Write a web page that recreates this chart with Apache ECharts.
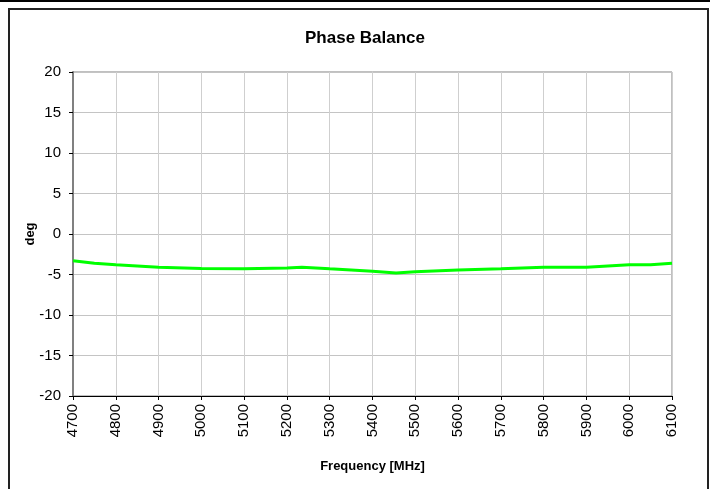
<!DOCTYPE html>
<html>
<head>
<meta charset="utf-8">
<title>Phase Balance</title>
<script src="https://cdn.jsdelivr.net/npm/echarts@6/dist/echarts.min.js"></script>
<style>
  * { margin: 0; padding: 0; }
  body { background: #fff; }
  #main { width: 715px; height: 489px; }
</style>
</head>
<body>
<div id="main"></div>
<script>
  // 频率点 (MHz) 和相位平衡值 (deg)
  let freqList = [4700, 4750, 4800, 4900, 5000, 5100, 5200, 5235, 5300, 5400, 5455, 5500, 5600, 5700, 5800, 5900, 6000, 6050, 6100];
  let phaseList = [-3.3, -3.6, -3.8, -4.1, -4.25, -4.3, -4.2, -4.1, -4.3, -4.6, -4.8, -4.65, -4.45, -4.3, -4.1, -4.1, -3.8, -3.8, -3.6];
  let xTicks = [4700, 6100, 100];   // min, max, interval
  let yTicks = [-20, 20, 5];

  let myChart = echarts.init(document.getElementById('main'));
  let lineData = [];
  freqList.forEach((f, i) => {
    lineData.push([f, phaseList[i]]);
  });

  let option = {
    backgroundColor: '#fff',
    animation: false,
    title: {
      text: 'Phase Balance',
      left: 360,
      top: 25,
      textAlign: 'center',
      textStyle: {
        fontFamily: 'Liberation Sans',
        fontSize: 17,
        fontWeight: 'bold',
        color: '#000'
      }
    },
    graphic: [
      // 外框
      { type: 'rect', shape: { x: 0, y: 0, width: 710, height: 2 }, style: { fill: '#000' } },
      { type: 'polyline', shape: { points: [[9, 489], [9, 9], [708, 9], [708, 489]] },
        style: { stroke: '#222', lineWidth: 2, fill: null } }
    ],
    grid: {
      left: 73,
      right: 43,
      top: 72,
      bottom: 93,
      show: true,
      borderColor: '#808080',
      borderWidth: 1
    },
    xAxis: {
      type: 'value',
      min: xTicks[0],
      max: xTicks[1],
      interval: xTicks[2],
      name: 'Frequency [MHz]',
      nameLocation: 'middle',
      nameGap: 64,
      nameTextStyle: {
        fontFamily: 'Liberation Sans',
        fontSize: 13,
        fontWeight: 'bold',
        color: '#000'
      },
      axisLine: { show: true, onZero: false, lineStyle: { color: '#000', width: 1 } },
      axisTick: { show: true, length: 4, lineStyle: { color: '#000' } },
      axisLabel: {
        rotate: 90,
        margin: 8,
        fontFamily: 'Liberation Sans',
        fontSize: 15,
        color: '#000',
        formatter: function(v) { return String(v); }
      },
      splitLine: { show: true, lineStyle: { color: '#cfcfcf', width: 1 } }
    },
    yAxis: {
      type: 'value',
      min: yTicks[0],
      max: yTicks[1],
      interval: yTicks[2],
      name: 'deg',
      nameLocation: 'middle',
      nameGap: 36,
      nameMoveOverlap: false,
      nameRotate: 90,
      nameTextStyle: {
        fontFamily: 'Liberation Sans',
        fontSize: 13,
        fontWeight: 'bold',
        color: '#000'
      },
      axisLine: { show: true, onZero: false, lineStyle: { color: '#808080', width: 2 } },
      axisTick: { show: true, length: 4, lineStyle: { color: '#000' } },
      axisLabel: {
        margin: 12,
        fontFamily: 'Liberation Sans',
        fontSize: 15,
        color: '#000'
      },
      splitLine: { show: true, lineStyle: { color: '#c4c4c4', width: 1 } }
    },
    series: [{
      name: 'Phase Balance',
      type: 'line',
      symbol: 'none',
      smooth: false,
      data: lineData,
      lineStyle: { color: '#00ff00', width: 3 }
    }]
  };
  myChart.setOption(option);
</script>
</body>
</html>
